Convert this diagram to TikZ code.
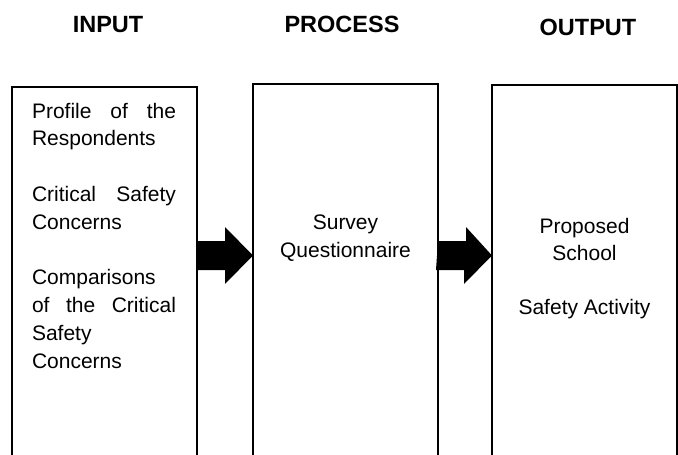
\documentclass[tikz,border=0pt]{standalone}
\usepackage{fontspec}
\setmainfont{Liberation Sans}
\usetikzlibrary{calc}
\begin{document}
\begin{tikzpicture}[x=1pt,y=-1pt,
  stage/.style={draw=black, line width=1.1pt, minimum width=185pt,
    minimum height=420pt, anchor=north west, inner sep=0pt, outer sep=0pt},
  heading/.style={font=\fontsize{23.5}{28}\selectfont\bfseries,
    anchor=base, inner sep=0pt},
  body/.style={inner sep=0pt, outer sep=0pt},
  flow/.style={fill=black}
]
\useasboundingbox (0,0) rectangle (678,455);
\clip (0,0) rectangle (678,455);

% column headings
\node[heading] (hin)   at (108,32)   {INPUT};
\node[heading] (hproc) at (342,32)   {PROCESS};
\node[heading] (hout)  at (588,35.5) {OUTPUT};

% the three stages (open at the bottom edge)
\node[stage] (input)   at (12,87)  {};
\node[stage] (process) at (253,84) {};
\node[stage] (output)  at (492,85) {};

% stage contents
\node[body, anchor=base west] (intext) at (32,118) {%
  \begin{minipage}[t]{144pt}
    \fontsize{21}{27.8}\selectfont
    \setlength{\parskip}{27.8pt}\tolerance=10000 \hyphenpenalty=10000
    Profile of the\linebreak Respondents\par
    Critical Safety\linebreak Concerns\par
    Comparisons\newline of the Critical\linebreak Safety\newline Concerns
  \end{minipage}};

\node[body, anchor=base] (proctext) at (345.5,229) {%
  \begin{minipage}[t]{170pt}
    \centering\fontsize{21}{28}\selectfont
    Survey\\Questionnaire
  \end{minipage}};

\node[body, anchor=base] (outtext) at (584.5,233) {%
  \begin{minipage}[t]{170pt}
    \centering\fontsize{21}{27.3}\selectfont
    \setlength{\parskip}{27.3pt}
    Proposed\\School\par
    Safety Activity
  \end{minipage}};

% block arrows between the stages
\coordinate (lvl) at (0,255.5);
\fill[flow] (input.east |- lvl) ++(0,-14.5) -- ++(28,0) -- ++(0,-14)
  -- (process.west |- lvl) -- ++(-28,28.5) -- ++(0,-14) -- ++(-28,0) -- cycle;
\fill[flow] (process.east |- lvl) ++(0,-14.5) -- ++(28,0) -- ++(0,-14)
  -- (output.west |- lvl) -- ++(-28,28.5) -- ++(0,-14) -- ++(-28,0) -- cycle;
\end{tikzpicture}
\end{document}
